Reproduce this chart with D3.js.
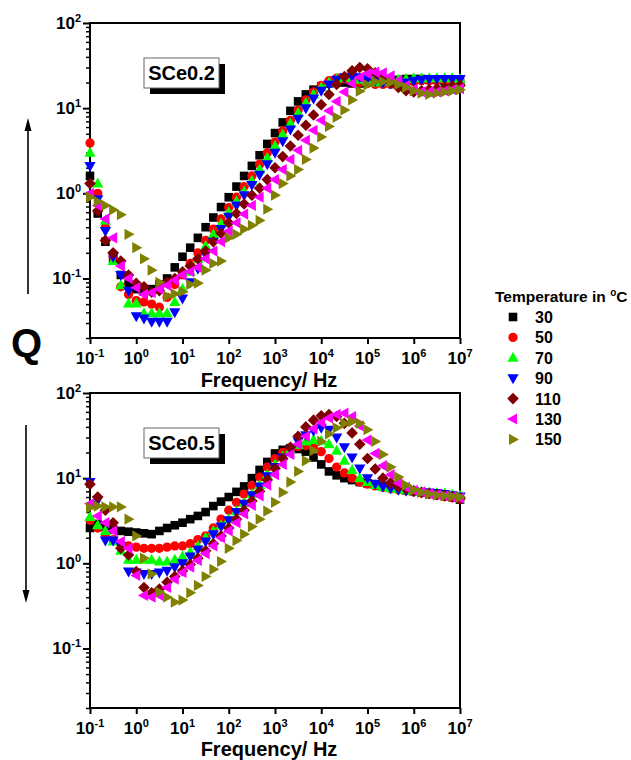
<!DOCTYPE html>
<html><head><meta charset="utf-8">
<script src="https://cdn.jsdelivr.net/npm/d3@7/dist/d3.min.js"></script>
<style>
body{margin:0;background:#fff}
svg text{font-family:"Liberation Sans",Arial,sans-serif;font-weight:bold;fill:#000}
</style>
</head><body>
<svg id="chart" width="631" height="760"></svg>
<script>
// ---- data ----
const logFreq = [-1,-0.833,-0.667,-0.5,-0.333,-0.167,0,0.167,0.333,0.5,0.667,0.833,1,1.167,1.333,1.5,1.667,1.833,2,2.167,2.333,2.5,2.667,2.833,3,3.167,3.333,3.5,3.667,3.833,4,4.167,4.333,4.5,4.667,4.833,5,5.167,5.333,5.5,5.667,5.833,6,6.167,6.333,6.5,6.667,6.833,7];
const temperatures = ["30","50","70","90","110","130","150"];
const xTickExps = [-1,0,1,2,3,4,5,6,7];
const yTickExps = [-1,0,1,2];

// SCe0.2
const sce02_T30  = [1.6,0.58,0.27,0.17,0.11,0.085,0.075,0.07,0.075,0.085,0.1,0.135,0.18,0.23,0.3,0.4,0.52,0.69,0.9,1.2,1.6,2.1,2.8,3.8,5.1,6.8,9.3,12,14.5,16.5,18,19.5,20,20,19.5,19.5,20,20.5,21,21,21.5,22,22,22,21.5,21.5,21,21,21];
const sce02_T50  = [3.9,1.0,0.4,0.18,0.08,0.065,0.055,0.053,0.05,0.046,0.06,0.085,0.11,0.15,0.2,0.28,0.38,0.5,0.68,0.9,1.2,1.6,2.2,3.0,4.0,5.4,7.2,9.5,12.5,15.5,18.5,21,22.5,22,21,20,19.5,19,19,19,19.5,20,20.5,21,21,21,21,20.5,20];
const sce02_T70  = [3.0,1.3,0.48,0.16,0.083,0.051,0.051,0.039,0.039,0.039,0.039,0.053,0.075,0.12,0.17,0.24,0.33,0.44,0.6,0.8,1.05,1.4,1.9,2.6,3.6,4.9,6.6,8.8,11.5,14.5,17.5,20,22,23,22.5,21.5,20.5,20,20.5,21,21.5,22,22.5,22.5,22.5,22.5,22.5,22.5,22];
const sce02_T90  = [2.1,0.85,0.36,0.18,0.11,0.072,0.036,0.034,0.031,0.031,0.031,0.04,0.058,0.09,0.13,0.19,0.27,0.38,0.53,0.72,0.95,1.25,1.65,2.2,3.0,4.1,5.6,7.5,10,13,16,19,21.5,23,23.5,23,22,21,20,19.5,19.5,20,21,21.5,22,22,22,22,22];
const sce02_T110 = [1.3,0.62,0.28,0.2,0.16,0.11,0.088,0.08,0.069,0.072,0.09,0.1,0.12,0.14,0.17,0.21,0.27,0.34,0.45,0.58,0.75,0.95,1.15,1.45,2.0,2.7,3.6,4.8,6.3,8.3,11,14.5,19,23.5,27.5,30,29,26,23,20,17.5,16,15.5,16,16.5,17,17.5,18,18.5];
const sce02_T130 = [1.0,0.72,0.5,0.3,0.14,0.1,0.078,0.065,0.068,0.075,0.083,0.095,0.11,0.12,0.135,0.17,0.21,0.27,0.36,0.45,0.57,0.72,0.9,1.15,1.45,1.9,2.5,3.2,4.2,5.5,7.2,9.3,12,15.5,19.5,23,25.5,26.5,26,24,21,18.5,16.5,15.5,15.5,15.5,16,16.5,17];
const sce02_T150 = [0.9,0.8,0.72,0.64,0.56,0.33,0.23,0.17,0.125,0.09,0.062,0.066,0.07,0.085,0.088,0.125,0.15,0.16,0.3,0.33,0.38,0.42,0.48,0.65,0.95,1.3,1.6,1.9,2.5,3.4,4.6,6.1,7.8,9.5,12.5,15.8,18.8,20.5,20.5,20,19,17.5,16,15,14.5,15,15.5,16,16.5];

// SCe0.5
const sce05_T30  = [2.6,2.9,2.7,2.5,2.4,2.35,2.3,2.25,2.2,2.4,2.6,2.8,3.0,3.3,3.6,4.0,4.7,5.3,6.0,6.9,8.0,10,12.5,15.5,19.5,21.5,22.5,22,20.5,17.5,14.5,12,10.8,10,9.5,9.0,8.7,8.4,8.1,7.8,7.5,7.2,7.0,6.8,6.6,6.4,6.2,6.0,5.6];
const sce05_T50  = [3.2,2.6,2.2,1.9,1.7,1.6,1.55,1.5,1.5,1.5,1.55,1.6,1.6,1.7,1.9,2.1,2.6,3.3,4.2,5.2,6.5,8.2,10.3,13.5,17,20,22.5,23.5,24,23,20.5,17,13.5,11.5,10,9,8.5,8.1,7.8,7.5,7.3,7.1,6.9,6.7,6.5,6.3,6.1,5.9,5.7];
const sce05_T70  = [3.5,2.8,2.4,1.8,1.4,1.1,1.1,1.1,1.1,1.05,1.05,1.1,1.2,1.35,1.6,2.0,2.4,2.8,3.3,4.1,5.1,6.5,8.3,11,14.5,18,21.5,24.5,27,28,27.5,25,21,16,12.5,10,9,8.3,7.9,7.6,7.4,7.2,7.0,6.9,6.8,6.7,6.6,6.4,6.2];
const sce05_T90  = [9.0,5.5,1.85,1.85,1.6,0.8,0.78,0.75,0.75,0.78,0.82,0.9,1.0,1.2,1.45,1.8,2.2,2.7,3.2,4.0,5.0,6.3,8.0,10.5,13.5,17.5,22,27,32,36,39,37,30,23,17.5,13,10,8.6,8.0,7.6,7.3,7.1,7.0,6.9,6.8,6.7,6.5,6.3,6.1];
const sce05_T110 = [8.5,6.0,4.2,3.0,1.5,1.25,0.8,0.52,0.45,0.5,0.6,0.7,0.82,0.97,1.15,1.4,1.7,2.1,2.6,3.3,4.2,5.4,7.0,9.5,13,17,23,31,40,48,54,56,53,44,34,25,17,12.8,10,8.8,8.0,7.5,7.1,6.8,6.6,6.4,6.2,6.0,5.8];
const sce05_T130 = [5.0,3.6,3.0,2.4,1.8,1.5,0.72,0.42,0.4,0.42,0.52,0.65,0.78,0.9,1.08,1.3,1.6,2.0,2.4,3.0,3.8,4.8,6.2,8.3,11,14.5,19,25,31,38,45,51,56,58,53,41,28,19.5,14,11,8.8,7.8,7.2,6.9,6.6,6.4,6.2,6.0,5.8];
const sce05_T150 = [4.5,4.7,4.6,4.6,4.6,3.3,2.1,1.15,0.75,0.46,0.4,0.35,0.37,0.45,0.55,0.7,0.85,1.05,1.5,1.85,2.2,2.7,3.3,4.1,5.2,6.8,9,12,16,21,27,33,39,44,46,44,37,27,19,13.5,10.3,8.3,7.3,6.8,6.5,6.3,6.2,6.1,6.0];

// ---- styling ----
const colors = ["#000000","#ff0000","#00ff00","#0000ff","#800000","#ff00ff","#808000"];
const shapes = [
  "M-4.3,-4.3H4.3V4.3H-4.3Z",
  d3.symbol(d3.symbolCircle, 68)(),
  "M0,-6L5.6,4L-5.6,4Z",
  "M0,6L5.6,-4L-5.6,-4Z",
  "M0,-5.8L5.8,0L0,5.8L-5.8,0Z",
  "M-6,0L4,-5.6L4,5.6Z",
  "M6,0L-4,-5.6L-4,5.6Z"
];

const svg = d3.select("#chart");
const X0 = 90, X1 = 460;
const x = d3.scaleLog().domain([0.1, 1e7]).range([X0, X1]);

const panels = [
  {top: 23, bottom: 338, name: "SCe0.2", box: [144, 58], xlabY: 387,
   series: [sce02_T30, sce02_T50, sce02_T70, sce02_T90, sce02_T110, sce02_T130, sce02_T150]},
  {top: 393, bottom: 708, name: "SCe0.5", box: [144, 428], xlabY: 756,
   series: [sce05_T30, sce05_T50, sce05_T70, sce05_T90, sce05_T110, sce05_T130, sce05_T150]}
];

const minorVals = [];
for (let e = -2; e <= 1; e++) for (let m = 2; m <= 9; m++) {
  const v = m * Math.pow(10, e);
  if (v >= 0.02 - 1e-9 && v <= 100) minorVals.push(v);
}

panels.forEach(p => {
  const y = d3.scaleLog().domain([0.02, 100]).range([p.bottom, p.top]);
  const g = svg.append("g");

  // frame
  g.append("rect").attr("x", X0).attr("y", p.top).attr("width", X1 - X0).attr("height", p.bottom - p.top)
    .attr("fill", "none").attr("stroke", "#000").attr("stroke-width", 2);

  // x axis (major ticks)
  const xa = g.append("g").attr("transform", `translate(0,${p.bottom})`)
    .call(d3.axisBottom(x).tickValues(xTickExps.map(e => Math.pow(10, e))).tickSize(6).tickFormat(""));
  xa.select(".domain").remove();
  xa.selectAll("line").attr("stroke-width", 2);

  // y axis major and minor ticks
  const ya = g.append("g").attr("transform", `translate(${X0},0)`)
    .call(d3.axisLeft(y).tickValues(yTickExps.map(e => Math.pow(10, e))).tickSize(7).tickFormat(""));
  ya.select(".domain").remove();
  ya.selectAll("line").attr("stroke-width", 2);
  const ym = g.append("g").attr("transform", `translate(${X0},0)`)
    .call(d3.axisLeft(y).tickValues(minorVals).tickSize(4).tickFormat(""));
  ym.select(".domain").remove();
  ym.selectAll("line").attr("stroke-width", 1.5);

  // x tick labels
  xTickExps.forEach(e => {
    const t = g.append("text").attr("x", x(Math.pow(10, e))).attr("y", p.bottom + 26)
      .attr("text-anchor", "middle").attr("font-size", 17);
    t.append("tspan").text("10");
    t.append("tspan").attr("dy", -7).attr("font-size", 11).text(e);
  });
  // y tick labels
  yTickExps.forEach(e => {
    const t = g.append("text").attr("x", 81).attr("y", y(Math.pow(10, e)) + 6)
      .attr("text-anchor", "end").attr("font-size", 17);
    t.append("tspan").text("10");
    t.append("tspan").attr("dy", -7).attr("font-size", 11).text(e);
  });

  // x title
  g.append("text").attr("x", 269).attr("y", p.xlabY).attr("text-anchor", "middle")
    .attr("font-size", 20).text("Frequency/ Hz");

  // data markers
  p.series.forEach((vals, i) => {
    g.append("g").selectAll("path")
      .data(vals.map((v, k) => [Math.pow(10, logFreq[k]), v]))
      .join("path")
      .attr("d", shapes[i])
      .attr("transform", d => `translate(${x(d[0])},${y(d[1])})`)
      .attr("fill", colors[i]);
  });

  // sample label box with shadow
  const [bx, by] = p.box;
  g.append("rect").attr("x", bx + 6).attr("y", by + 6).attr("width", 75).attr("height", 30).attr("fill", "#000");
  g.append("rect").attr("x", bx).attr("y", by).attr("width", 75).attr("height", 30)
    .attr("fill", "#fff").attr("stroke", "#666").attr("stroke-width", 1);
  g.append("text").attr("x", bx + 37.5).attr("y", by + 22).attr("text-anchor", "middle")
    .attr("font-size", 20).text(p.name);
});

// legend
const lg = svg.append("g");
const lt = lg.append("text").attr("x", 495).attr("y", 302).attr("font-size", 15.5);
lt.append("tspan").text("Temperature in ");
lt.append("tspan").attr("dy", -6).attr("font-size", 10).text("o");
lt.append("tspan").attr("dy", 6).text("C");
temperatures.forEach((t, i) => {
  const yy = 317 + i * 20.4;
  lg.append("path").attr("d", shapes[i]).attr("transform", `translate(513,${yy})`).attr("fill", colors[i]);
  lg.append("text").attr("x", 535).attr("y", yy + 6).attr("font-size", 16).text(t);
});

// Q and arrows
svg.append("text").attr("x", 11).attr("y", 357).attr("font-size", 40).text("Q");
svg.append("line").attr("x1", 28).attr("x2", 28).attr("y1", 294).attr("y2", 126).attr("stroke", "#000").attr("stroke-width", 1.6);
svg.append("path").attr("d", "M28,118L24.5,131L31.5,131Z").attr("fill", "#000");
svg.append("line").attr("x1", 26).attr("x2", 26).attr("y1", 425).attr("y2", 595).attr("stroke", "#000").attr("stroke-width", 1.6);
svg.append("path").attr("d", "M26,603L22.5,590L29.5,590Z").attr("fill", "#000");
</script>
</body></html>
